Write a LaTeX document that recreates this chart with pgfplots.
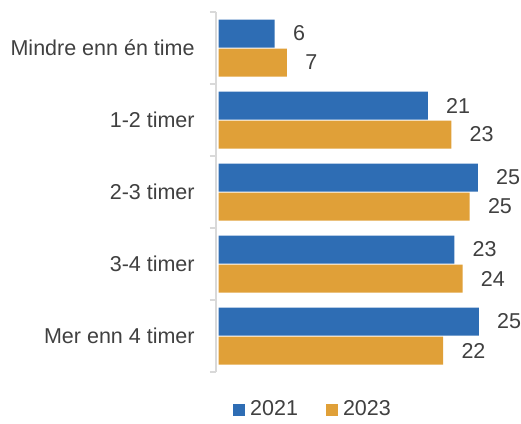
\documentclass[border=0pt]{standalone}
\usepackage{pgfplots}
\pgfplotsset{compat=1.18}
\usepackage{fontspec}
\setmainfont{Liberation Sans}

\definecolor{blue21}{RGB}{46,109,180}
\definecolor{orange23}{RGB}{224,160,56}
\definecolor{txt}{RGB}{64,64,64}
\definecolor{axgray}{RGB}{217,217,217}

\begin{document}
\begin{tikzpicture}
  \fontsize{21.5}{24}\selectfont
  % picture frame: axis south west sits at (0,0)
  \useasboundingbox (-216pt,-51pt) rectangle (305pt,372pt);
  \begin{axis}[
    at = {(0pt,0pt)}, anchor = south west,
    scale only axis,
    width = 294pt,
    height = 360pt,
    xbar,
    bar width = 28pt,
    xmin = -0.25, xmax = 28.55,
    ymin = -0.5, ymax = 4.5,
    axis x line = none,
    axis y line = left,
    y axis line style = {axgray, line width=2pt, -},
    ytick = {0,1,2,3,4},
    yticklabels = {Mer enn 4 timer,3-4 timer,2-3 timer,1-2 timer,Mindre enn én time},
    major tick length = 0pt,
    yticklabel style = {txt, xshift=-14pt},
    extra y ticks = {-0.5,0.5,1.5,2.5,3.5,4.5},
    extra y tick labels = {},
    extra y tick style = {major tick length=6pt, tick align=outside, tick style={axgray, line width=2pt}},
    point meta = explicit symbolic,
    nodes near coords = {\pgfplotspointmeta},
    nodes near coords style = {txt, anchor=west, xshift=11pt},
    legend columns = 2,
    legend style = {draw=none, at={(0.33,-0.105)}, anchor=center, text=txt,
      /tikz/every even column/.append style={column sep=26pt}},
    legend image code/.code = {\fill[#1] (0pt,-6pt) rectangle (12pt,6pt); \path (15pt,0pt);},
    ]
    \addplot [fill=blue21, draw=none, bar shift=14.5pt] coordinates {
      (5.5,4) [6]
      (20.5,3) [21]
      (25.4,2) [25]
      (23.1,1) [23]
      (25.5,0) [25]
    };
    \addplot [fill=orange23, draw=none, bar shift=-14.5pt] coordinates {
      (6.7,4) [7]
      (22.8,3) [23]
      (24.6,2) [25]
      (23.9,1) [24]
      (22.0,0) [22]
    };
    \legend{2021,2023}
  \end{axis}
\end{tikzpicture}
\end{document}
